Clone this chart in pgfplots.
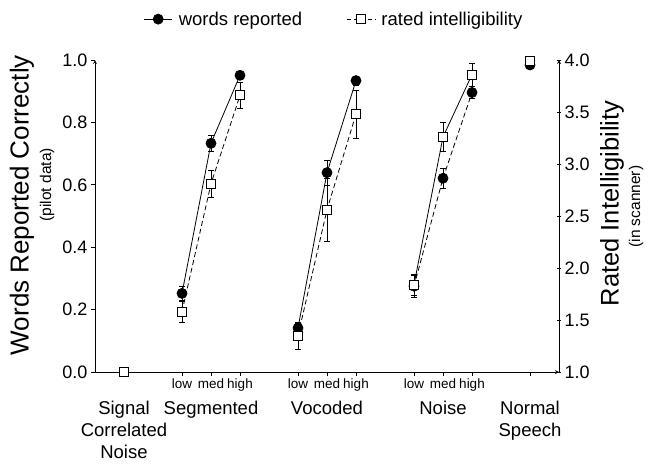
\documentclass[border=0pt]{standalone}
\usepackage{fontspec}
\setmainfont{Liberation Sans}
\usepackage{pgfplots}
\pgfplotsset{compat=1.18}
\begin{document}
\begin{tikzpicture}
\pgfplotsset{
  base/.style={
    width=464pt, height=312pt, scale only axis,
    xmin=0, xmax=16, clip=false,
    axis line style={-, line width=0.8pt},
    tick style={black, line width=0.8pt},
    major tick length=4pt,
    tick label style={font=\fontsize{18}{20}\selectfont},
    /pgf/number format/fixed, /pgf/number format/fixed zerofill, /pgf/number format/precision=1,
    /pgf/number format/assume math mode=true,
  },
  ebars/.style={
    error bars/y dir=both, error bars/y explicit,
    error bars/error bar style={line width=0.6pt, solid},
    error bars/error mark options={rotate=90, mark size=3pt, line width=0.6pt, solid}},
  words/.style={black, line width=0.8pt, mark=*, mark size=5pt, mark options={solid, fill=black}, ebars},
  rated/.style={black, line width=0.8pt, mark=square*, mark size=4.5pt, mark options={solid, fill=white}, ebars},
}
\begin{axis}[base, name=ax,
  axis x line=bottom, axis y line=left,
  ymin=0, ymax=1,
  ytick={0,0.2,0.4,0.6,0.8,1.0},
  tick align=outside,
  xtick={1,3,4,5,7,8,9,11,12,13,15},
  xticklabels={,low,med,high,low,med,high,low,med,high,},
  xticklabel style={font=\fontsize{13.5}{15}\selectfont, yshift=1pt},
]
% words reported (left axis)
\addplot+[words, solid] coordinates {(3,0.252) +- (0,0.022) (4,0.733) +- (0,0.025) (5,0.951) +- (0,0.012)};
\addplot+[words, solid] coordinates {(7,0.141) +- (0,0.015) (8,0.639) +- (0,0.04) (9,0.934) +- (0,0.015)};
\addplot+[words, dash pattern=on 5pt off 3pt] coordinates {(11,0.275) +- (0,0.035) (12,0.621) +- (0,0.032) (13,0.896) +- (0,0.02)};
\addplot+[words, solid] coordinates {(15,0.984)};
% category labels
\node[anchor=north, align=center, inner sep=0pt, font=\fontsize{18.5}{22}\selectfont] at ([yshift=-29pt]axis cs:1,0) {Signal\\Correlated\\Noise};
\node[anchor=north, inner sep=0pt, font=\fontsize{18.5}{22}\selectfont] at ([yshift=-29pt]axis cs:4,0) {Segmented};
\node[anchor=north, inner sep=0pt, font=\fontsize{18.5}{22}\selectfont] at ([yshift=-29pt]axis cs:8,0) {Vocoded};
\node[anchor=north, inner sep=0pt, font=\fontsize{18.5}{22}\selectfont] at ([yshift=-29pt]axis cs:12,0) {Noise};
\node[anchor=north, align=center, inner sep=0pt, font=\fontsize{18.5}{22}\selectfont] at ([yshift=-29pt]axis cs:15,0) {Normal\\Speech};
% y labels
\node[rotate=90, font=\fontsize{26}{28}\selectfont] at ([xshift=-73pt]rel axis cs:0,0.535) {Words Reported Correctly};
\node[rotate=90, font=\fontsize{15.5}{17}\selectfont] at ([xshift=-48pt]rel axis cs:0,0.6) {(pilot data)};
\end{axis}
\begin{axis}[base,
  axis x line=none, axis y line=right,
  ymin=1, ymax=4,
  ytick={1,1.5,2,2.5,3,3.5,4},
  tick align=center,
  legend style={at={(0.515,1.131)}, anchor=center, draw=none, fill=none,
    legend columns=2, font=\fontsize{18.5}{20}\selectfont,
    /tikz/every odd column/.append style={column sep=4pt},
    /tikz/every even column/.append style={column sep=42pt}},
  legend image code/.code={\draw[mark repeat=2, mark phase=2, #1] plot coordinates {(0cm,0cm) (0.5cm,0cm) (1cm,0cm)};},
]
\addlegendimage{black, line width=0.8pt, solid, mark=*, mark size=5pt, mark options={solid, fill=black}}
\addlegendentry{words reported}
\addlegendimage{black, line width=0.8pt, dash pattern=on 4pt off 3pt, mark=square*, mark size=4.5pt, mark options={solid, fill=white}}
\addlegendentry{rated intelligibility}
% rated intelligibility (right axis)
\addplot+[rated, forget plot] coordinates {(1,1.0)};
\addplot+[rated, forget plot, dash pattern=on 5pt off 3pt] coordinates {(3,1.58) +- (0,0.10) (4,2.81) +- (0,0.13) (5,3.66) +- (0,0.125)};
\addplot+[rated, forget plot, dash pattern=on 5pt off 3pt] coordinates {(7,1.35) +- (0,0.13) (8,2.56) +- (0,0.30) (9,3.48) +- (0,0.23)};
\addplot+[rated, forget plot, solid] coordinates {(11,1.84) +- (0,0.10) (12,3.26) +- (0,0.14) (13,3.86) +- (0,0.11)};
\addplot+[rated, forget plot] coordinates {(15,3.99)};
\node[rotate=90, font=\fontsize{25.5}{27}\selectfont] at ([xshift=53pt]rel axis cs:1,0.54) {Rated Intelligibility};
\node[rotate=90, font=\fontsize{15.5}{17}\selectfont] at ([xshift=77pt]rel axis cs:1,0.53) {(in scanner)};
\end{axis}
\pgfresetboundingbox
\path ([shift={(-95pt,-92pt)}]ax.south west) rectangle ([shift={(90pt,60pt)}]ax.north east);
\end{tikzpicture}
\end{document}
